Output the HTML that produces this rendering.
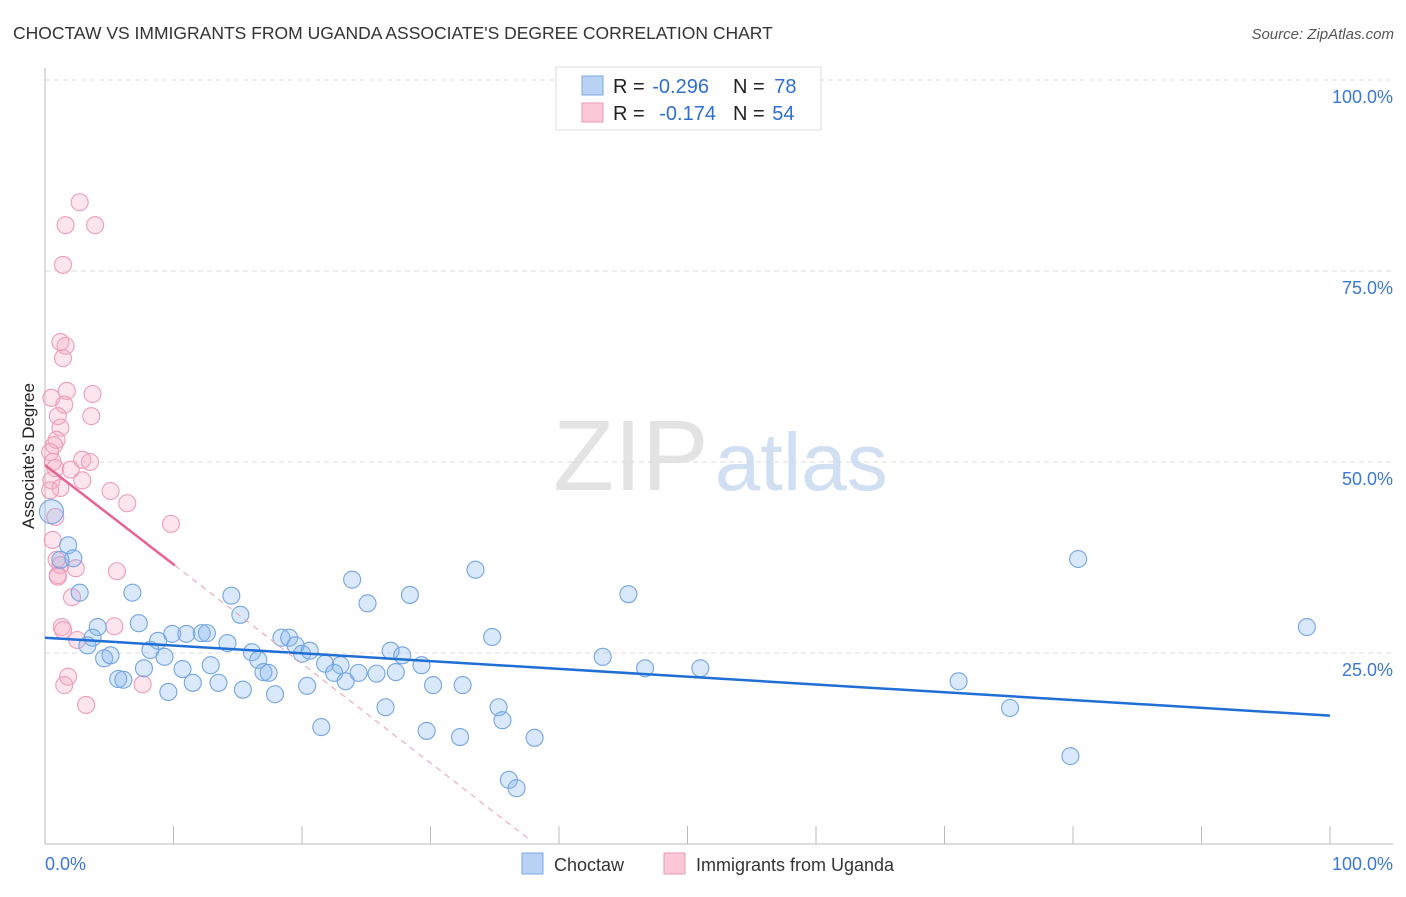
<!DOCTYPE html>
<html><head><meta charset="utf-8"><style>
body{margin:0;background:#fff;font-family:"Liberation Sans",sans-serif;}
svg text{font-family:"Liberation Sans",sans-serif;}
</style></head><body>
<svg id="chart" width="1406" height="892" viewBox="0 0 1406 892" xmlns="http://www.w3.org/2000/svg">
<text x="13" y="39" font-size="17.5" fill="#333">CHOCTAW VS IMMIGRANTS FROM UGANDA ASSOCIATE'S DEGREE CORRELATION CHART</text>
<text x="1394" y="39" font-size="15" fill="#555" text-anchor="end" font-style="italic">Source: ZipAtlas.com</text>
<g id="grid"></g>
<text x="553" y="490" font-size="100" fill="#ddd" font-family="Liberation Serif" opacity="0.8">ZIP<tspan fill="#c5d8f0" font-family="Liberation Sans" font-size="82" dx="6">atlas</tspan></text>
<text transform="translate(34,456) rotate(-90)" font-size="17" fill="#222" text-anchor="middle">Associate's Degree</text>
<g id="marks"></g>
<g>
<rect x="556" y="67" width="265" height="63" fill="#fff" stroke="#ddd"/>
<rect x="582" y="76" width="21" height="19" fill="#b9d3f5" stroke="#7aa8e6"/>
<rect x="582" y="103" width="21" height="19" fill="#fcc8d7" stroke="#ec9ab4"/>
<text x="613" y="93" font-size="20" fill="#222">R = <tspan fill="#2f6fd0" dx="2">-0.296</tspan></text>
<text x="733" y="93" font-size="20" fill="#222">N = <tspan fill="#2f6fd0" dx="4">78</tspan></text>
<text x="613" y="120" font-size="20" fill="#222">R = <tspan fill="#2f6fd0" dx="9">-0.174</tspan></text>
<text x="733" y="120" font-size="20" fill="#222">N = <tspan fill="#2f6fd0" dx="2">54</tspan></text>
</g>
<g>
<rect x="522" y="853" width="21" height="21" fill="#b9d3f5" stroke="#7aa8e6"/>
<text x="554" y="871" font-size="18" fill="#333">Choctaw</text>
<rect x="664" y="853" width="21" height="21" fill="#fcc8d7" stroke="#ec9ab4"/>
<text x="696" y="871" font-size="18" fill="#333">Immigrants from Uganda</text>
</g>
</svg>
<script>
const yTicks=[100,75,50,25];
const yTickLabels=["100.0%","75.0%","50.0%","25.0%"];
const xTickCount=10;
const blueX=[0.5,1.8,2.2,1.2,2.7,6.8,4.1,3.7,3.3,4.6,5.1,5.7,6.1,7.3,8.2,8.8,9.3,7.7,9.6,9.9,11.0,10.7,11.5,12.2,12.6,12.9,13.5,14.2,14.5,15.2,15.4,16.1,16.6,17.0,17.4,17.9,18.4,19.0,19.5,20.0,20.6,20.4,21.5,21.8,23.0,22.5,23.4,23.9,24.4,25.1,25.8,26.5,26.9,27.3,27.8,28.4,29.3,29.7,30.2,32.3,32.5,33.5,34.8,35.3,35.6,36.1,36.7,38.1,43.4,45.4,46.7,51.0,71.1,75.1,79.8,80.4,98.2];
const blueY=[43.5,39.1,37.4,37.2,32.9,32.9,28.4,27.0,26.0,24.3,24.7,21.6,21.5,28.9,25.4,26.6,24.5,23.0,19.9,27.5,27.5,22.9,21.1,27.6,27.6,23.4,21.1,26.3,32.5,30.0,20.2,25.1,24.1,22.5,22.4,19.6,27.0,27.0,26.0,24.9,25.3,20.7,15.3,23.6,23.4,22.4,21.3,34.6,22.4,31.5,22.3,17.9,25.3,22.5,24.7,32.6,23.4,14.8,20.8,14.0,20.8,35.9,27.1,17.9,16.2,8.4,7.3,13.9,24.5,32.7,23.0,23.0,21.3,17.8,11.5,37.3,28.4];
const pinkX=[2.7,1.6,3.9,1.4,1.2,1.6,1.4,1.7,3.7,0.5,1.5,1.0,3.6,1.2,0.9,0.7,0.4,0.6,2.9,3.5,2.0,0.8,0.5,2.9,1.2,5.1,6.4,0.8,9.8,0.6,0.9,1.2,1.0,2.4,5.6,2.1,1.3,5.4,2.5,1.8,1.5,7.6,3.2,1.0,1.4,0.4];
const pinkY=[84.0,81.0,81.0,75.8,65.7,65.2,63.6,59.3,58.9,58.4,57.5,56.0,56.0,54.5,52.9,52.2,51.3,50.0,50.3,50.0,49.0,49.2,47.6,47.6,46.6,46.2,44.6,42.8,41.9,39.8,37.2,36.5,35.2,36.1,35.7,32.3,28.4,28.5,26.7,21.9,20.8,20.9,18.2,35.0,28.0,46.3];
const blueTrend=[27.0,16.8];
const pinkTrend=[49.6,-1.3];
const NS="http://www.w3.org/2000/svg";
const X=v=>45+v*12.85, Y=v=>844-v*7.64;
const grid=document.getElementById('grid'), marks=document.getElementById('marks');
function mk(tag,attrs,parent){const e=document.createElementNS(NS,tag);for(const k in attrs)e.setAttribute(k,attrs[k]);parent.appendChild(e);return e;}
yTicks.forEach((t,i)=>{
  const l=mk('line',{x1:45,x2:1393,y1:Y(t),y2:Y(t),stroke:'#ddd','stroke-dasharray':'5,4'},grid);
  
  
  const tx=mk('text',{x:1393,y:Y(t)+23,'font-size':18,fill:'#3a78d4','text-anchor':'end'},grid);
  tx.textContent=yTickLabels[i];
  
  
});
let a=mk('line',{x1:45,x2:1393,y1:844,y2:844,stroke:'#bbb'},grid);


a=mk('line',{x1:45,x2:45,y1:68,y2:844,stroke:'#bbb'},grid);


for(let i=1;i<=xTickCount;i++){
  const t=mk('line',{x1:X(i*10),x2:X(i*10),y1:826,y2:844,stroke:'#bbb'},grid);
  
  
}
let xl=mk('text',{x:45,y:870,'font-size':18,fill:'#3a78d4'},grid);xl.textContent='0.0%';


xl=mk('text',{x:1393,y:870,'font-size':18,fill:'#3a78d4','text-anchor':'end'},grid);xl.textContent='100.0%';


pinkX.forEach((v,i)=>{
  const c=mk('circle',{cx:X(v),cy:Y(pinkY[i]),r:8.5,fill:'rgba(246,170,196,0.3)',stroke:'#ee9cb8','stroke-width':1.1},marks);
  
  
});
blueX.forEach((v,i)=>{
  const c=mk('circle',{cx:X(v),cy:Y(blueY[i]),r:i===0?12:8.5,fill:'rgba(130,178,238,0.3)',stroke:'#74a5e4','stroke-width':1.1},marks);
  
  
});
let tl=mk('line',{x1:X(0),y1:Y(blueTrend[0]),x2:X(100),y2:Y(blueTrend[1]),stroke:'#1f6fd6','stroke-width':2.5},marks);


const pEnd=10.1, pDash=37.7;
tl=mk('line',{x1:X(0),y1:Y(pinkTrend[0]),x2:X(pEnd),y2:Y(pinkTrend[0]+pinkTrend[1]*pEnd),stroke:'#e8638f','stroke-width':2.5},marks);


tl=mk('line',{x1:X(pEnd),y1:Y(pinkTrend[0]+pinkTrend[1]*pEnd),x2:X(pDash),y2:Y(pinkTrend[0]+pinkTrend[1]*pDash),stroke:'#e8a0b5','stroke-width':1,'stroke-dasharray':'6,5'},marks);


</script>
</body></html>
